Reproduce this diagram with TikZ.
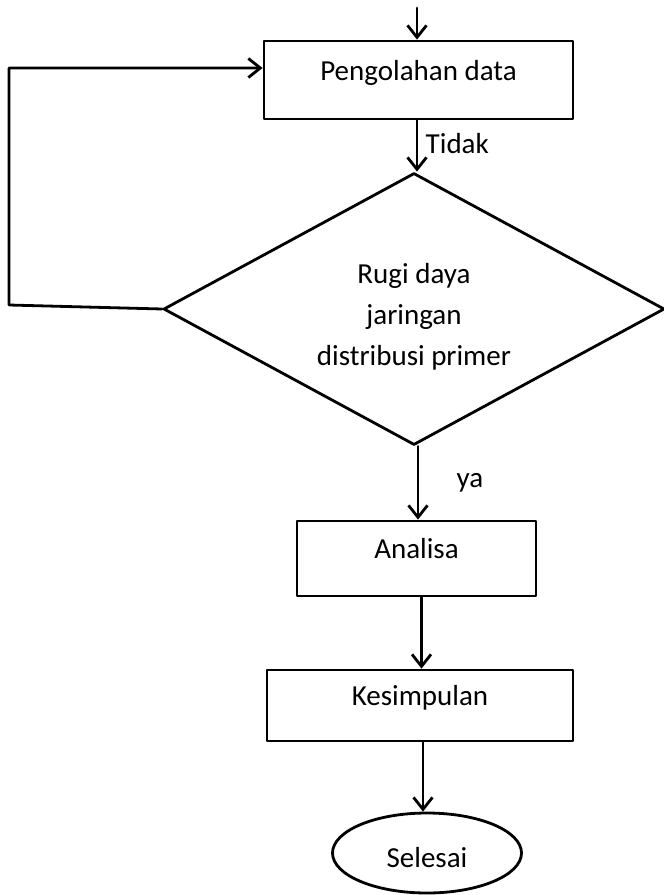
\documentclass[tikz,border=0pt]{standalone}
\usepackage{fontspec}
\setmainfont{Carlito}
\usepackage{tikz}
\usetikzlibrary{arrows.meta,shapes.geometric}
\tikzset{
  box/.style={draw, line width=2.8pt, inner sep=0pt, text height=13pt, text depth=13pt,
    font=\fontsize{29}{41}\selectfont},
  decis/.style={draw, diamond, line width=2.8pt, inner sep=0pt, aspect=1.84, align=center,
    font=\fontsize{29}{41}\selectfont},
  term/.style={draw, ellipse, line width=2.8pt, inner sep=0pt, text height=28pt, text depth=0pt,
    font=\fontsize{29}{41}\selectfont},
  lbl/.style={font=\fontsize{29}{41}\selectfont},
  arr/.style={line width=2.8pt, -{Straight Barb[length=12pt,width=19pt,line width=2.8pt]}},
  every picture/.style={line cap=round, line join=round}
}
\begin{document}
\begin{tikzpicture}[x=1pt, y=-1pt]
    \useasboundingbox (0,0) rectangle (664,895);

    \node[box, minimum width=309pt, minimum height=78pt] (pd) at (418.5,80) {Pengolahan data};
    \node[decis, minimum width=501pt, minimum height=272pt] (dec) at (414,309)
      {\rule{0pt}{36pt}Rugi daya\\jaringan\\distribusi primer};
    \node[box, minimum width=239pt, minimum height=75pt] (ana) at (416.5,558.5) {Analisa};
    \node[box, minimum width=306pt, minimum height=71pt] (kes) at (420,705.5) {Kesimpulan};
    \node[term, minimum width=189pt, minimum height=80pt] (sel) at (427,853) {Selesai};

    \coordinate (in) at (417,8);
    \coordinate (lp) at (9,305);

    \draw[arr] (in) -- (in |- pd.north);
    \draw[arr] ([xshift=3pt]dec.north |- pd.south) -- ([xshift=3pt]dec.north)
      node[lbl, pos=0.45, right=4pt] (tdk) {Tidak};
    \draw[arr] ([xshift=4pt]dec.south) -- ([xshift=4pt]dec.south |- ana.north)
      node[lbl, pos=0.5, right=34pt] (ya) {ya};
    \draw[arr] ([xshift=5pt]ana.south) -- ([xshift=5pt]ana.south |- kes.north);
    \draw[arr] ([xshift=3pt]kes.south) -- ([xshift=3pt]kes.south |- sel.north);
    \draw[arr] (dec.west) -- (lp) |- ([yshift=12pt]pd.west);
  \end{tikzpicture}
\end{document}
